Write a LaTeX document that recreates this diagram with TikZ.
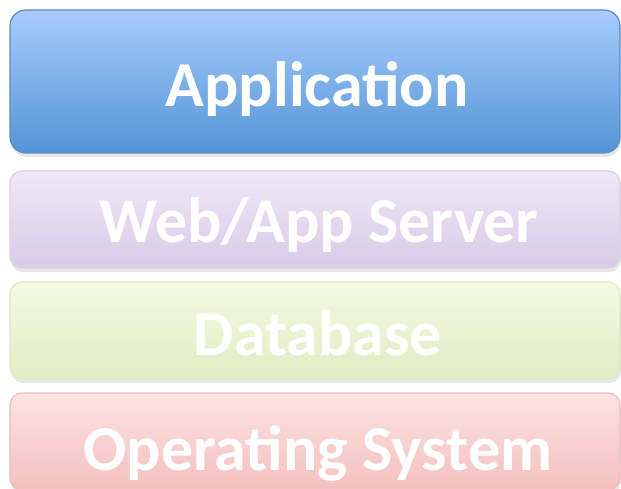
\documentclass[tikz,border=0pt]{standalone}
\usepackage{fontspec}
\setmainfont{Carlito}
\usetikzlibrary{shadows}
\definecolor{aTop}{HTML}{A8CCFC}
\definecolor{aBot}{HTML}{5394D6}
\definecolor{aLine}{HTML}{5A8DC8}
\definecolor{wTop}{HTML}{EEE8F7}
\definecolor{wBot}{HTML}{D8CBE7}
\definecolor{wLine}{HTML}{D9CEE8}
\definecolor{dTop}{HTML}{F3FAE3}
\definecolor{dBot}{HTML}{E1ECC2}
\definecolor{dLine}{HTML}{DDE9BE}
\definecolor{oTop}{HTML}{FDE3E2}
\definecolor{oBot}{HTML}{F3C0BF}
\definecolor{oLine}{HTML}{EDBDBC}
\tikzset{
  layer/.style={draw, line width=1.2pt, rounded corners=16pt, minimum width=610pt,
    drop shadow={shadow xshift=1pt, shadow yshift=-4pt, opacity=0.2}},
  lbl/.style={anchor=base, text=white, font=\bfseries\fontsize{64}{70}\selectfont, inner sep=0pt}
}
\begin{document}
\begin{tikzpicture}[x=1pt,y=-1pt]
\useasboundingbox (0,0) rectangle (621,489);
\node[layer, draw=aLine, top color=aTop, bottom color=aBot, minimum height=143pt] (app) at (315,81.5) {};
\node[layer, draw=wLine, top color=wTop, bottom color=wBot, minimum height=97pt, rounded corners=12pt] (web) at (315,219.5) {};
\node[layer, draw=dLine, top color=dTop, bottom color=dBot, minimum height=97pt, rounded corners=12pt] (db) at (315,330.5) {};
\node[layer, draw=oLine, top color=oTop, bottom color=oBot, minimum height=97pt, rounded corners=12pt] (os) at (315,441.5) {};
\node[lbl, font=\bfseries\fontsize{64}{70}\selectfont] (tapp) at (317,107) {Application};
\node[lbl] (tweb) at (319,243) {Web/App Server};
\node[lbl] (tdb) at (318,355) {Database};
\node[lbl] (tos) at (318,470) {Operating System};
\end{tikzpicture}
\end{document}
